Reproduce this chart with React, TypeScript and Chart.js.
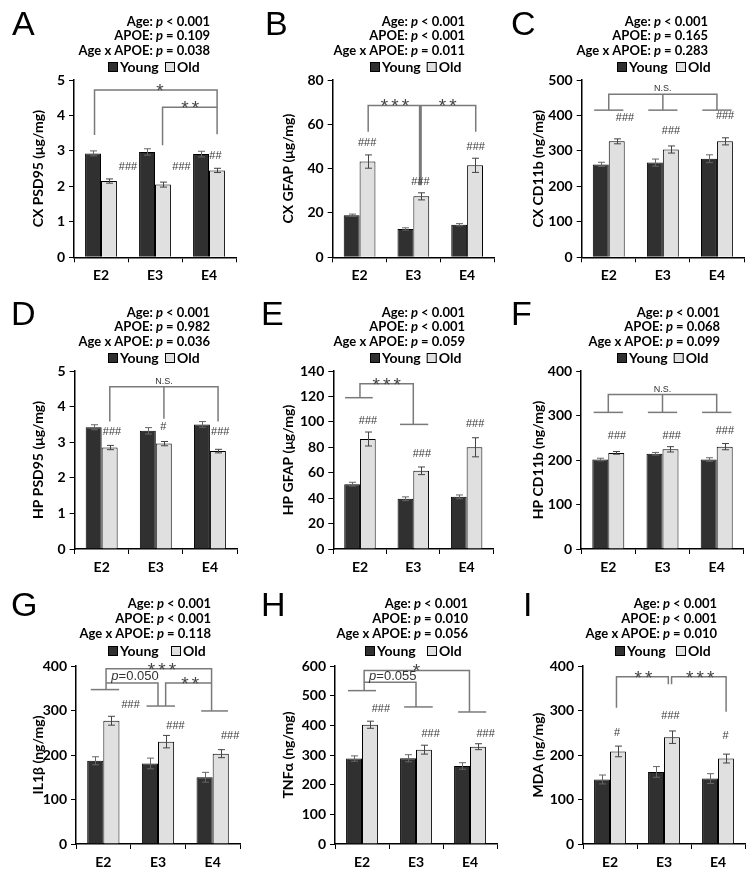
import React, { useEffect, useRef } from 'react';
import { Chart, registerables } from 'chart.js';

Chart.register(...registerables);

// ---------- shared data ----------
const CATEGORIES = ['E2', 'E3', 'E4'];
const SERIES = ['Young', 'Old'];

// ---------- panel A: CX PSD95 ----------
const A_YOUNG = [2.93, 2.97, 2.91];
const A_YOUNG_ERR = [0.07, 0.09, 0.08];
const A_OLD = [2.15, 2.05, 2.45];
const A_OLD_ERR = [0.06, 0.07, 0.06];
const A_STATS = ['Age: p < 0.001', 'APOE: p = 0.109', 'Age x APOE: p = 0.038'];

// ---------- panel B: CX GFAP ----------
const B_YOUNG = [19, 12.8, 14.7];
const B_YOUNG_ERR = [0.5, 0.5, 0.5];
const B_OLD = [43.2, 27.5, 41.5];
const B_OLD_ERR = [3, 1.6, 3.2];
const B_STATS = ['Age: p < 0.001', 'APOE: p < 0.001', 'Age x APOE: p = 0.011'];

// ---------- panel C: CX CD11b ----------
const C_YOUNG = [262, 267, 278];
const C_YOUNG_ERR = [6, 10, 11];
const C_OLD = [327, 304, 327];
const C_OLD_ERR = [7, 10, 10];
const C_STATS = ['Age: p < 0.001', 'APOE: p = 0.165', 'Age x APOE: p = 0.283'];

// ---------- panel D: HP PSD95 ----------
const D_YOUNG = [3.42, 3.32, 3.5];
const D_YOUNG_ERR = [0.07, 0.09, 0.08];
const D_OLD = [2.85, 2.96, 2.75];
const D_OLD_ERR = [0.06, 0.06, 0.05];
const D_STATS = ['Age: p < 0.001', 'APOE: p = 0.982', 'Age x APOE: p = 0.036'];

// ---------- panel E: HP GFAP ----------
const E_YOUNG = [51, 39.5, 41];
const E_YOUNG_ERR = [1.5, 1.5, 1.5];
const E_OLD = [86.5, 61.5, 80];
const E_OLD_ERR = [5.5, 3, 7.5];
const E_STATS = ['Age: p < 0.001', 'APOE: p < 0.001', 'Age x APOE: p = 0.059'];

// ---------- panel F: HP CD11b ----------
const F_YOUNG = [201, 214, 201];
const F_YOUNG_ERR = [3, 3, 4];
const F_OLD = [216, 224, 230];
const F_OLD_ERR = [3, 6, 7];
const F_STATS = ['Age: p < 0.001', 'APOE: p = 0.068', 'Age x APOE: p = 0.099'];

// ---------- panel G: IL1β ----------
const G_YOUNG = [187, 181, 150];
const G_YOUNG_ERR = [9, 12, 11];
const G_OLD = [277, 230, 203];
const G_OLD_ERR = [10, 14, 9];
const G_STATS = ['Age: p < 0.001', 'APOE: p < 0.001', 'Age x APOE: p = 0.118'];

// ---------- panel H: TNFα ----------
const H_YOUNG = [288, 289, 263];
const H_YOUNG_ERR = [9, 12, 11];
const H_OLD = [402, 318, 328];
const H_OLD_ERR = [12, 15, 10];
const H_STATS = ['Age: p < 0.001', 'APOE: p = 0.010', 'Age x APOE: p = 0.056'];

// ---------- panel I: MDA ----------
const I_YOUNG = [145, 162, 147];
const I_YOUNG_ERR = [10, 12, 11];
const I_OLD = [208, 240, 192];
const I_OLD_ERR = [12, 14, 10];
const I_STATS = ['Age: p < 0.001', 'APOE: p < 0.001', 'Age x APOE: p = 0.010'];

// ---------- annotation types ----------
type Seg = { pts: [number, number][]; w?: number };
type Mark = { x: number; y: number; t: string };

// annotations: x in category units (0 = E2 centre), y in data units
const A_HASH: Mark[] = [{ x: 0.5, y: 2.56, t: '###' }, { x: 1.49, y: 2.56, t: '###' }, { x: 2.12, y: 2.86, t: '##' }];
const A_BRACKETS: Seg[] = [
  { pts: [[-0.12, 3.45], [-0.12, 4.72], [2.15, 4.72], [2.15, 3.47]] },
  { pts: [[1.14, 3.16], [1.14, 4.23], [2.15, 4.23]] },
];
const A_SIGNS: Mark[] = [{ x: 1.09, y: 4.72, t: '*' }, { x: 1.65, y: 4.23, t: '**' }];

const B_HASH: Mark[] = [{ x: 0.14, y: 51.5, t: '###' }, { x: 1.13, y: 34, t: '###' }, { x: 2.16, y: 50, t: '###' }];
const B_BRACKETS: Seg[] = [
  { pts: [[0.16, 56.7], [0.16, 68.5], [2.16, 68.5], [2.16, 56.7]] },
  { pts: [[1.13, 32.5], [1.13, 68.5]], w: 3 },
];
const B_SIGNS: Mark[] = [{ x: 0.66, y: 68.5, t: '***' }, { x: 1.64, y: 68.5, t: '**' }];

const C_HASH: Mark[] = [{ x: 0.3, y: 393, t: '###' }, { x: 1.15, y: 355, t: '###' }, { x: 2.15, y: 398, t: '###' }];
const C_BRACKETS: Seg[] = [
  { pts: [[-0.27, 415], [0.27, 415]] },
  { pts: [[0.73, 415], [1.27, 415]] },
  { pts: [[1.73, 415], [2.27, 415]] },
  { pts: [[0, 415], [0, 460], [2, 460], [2, 415]] },
  { pts: [[1, 415], [1, 460]] },
];
const C_SIGNS: Mark[] = [{ x: 1, y: 460, t: 'N.S.' }];

const D_HASH: Mark[] = [{ x: 0.19, y: 3.3, t: '###' }, { x: 1.14, y: 3.43, t: '#' }, { x: 2.19, y: 3.3, t: '###' }];
const D_BRACKETS: Seg[] = [
  { pts: [[0.15, 3.58], [0.15, 4.56], [2.15, 4.56], [2.15, 3.58]] },
  { pts: [[1.15, 3.66], [1.15, 4.56]] },
];
const D_SIGNS: Mark[] = [{ x: 1.15, y: 4.56, t: 'N.S.' }];

const E_HASH: Mark[] = [{ x: 0.15, y: 101, t: '###' }, { x: 1.16, y: 74.5, t: '###' }, { x: 2.16, y: 98, t: '###' }];
const E_BRACKETS: Seg[] = [
  { pts: [[-0.28, 119], [0.24, 119]] },
  { pts: [[0.75, 98], [1.28, 98]] },
  { pts: [[0, 119], [0, 130], [1, 130], [1, 98]] },
];
const E_SIGNS: Mark[] = [{ x: 0.5, y: 130, t: '***' }];

const F_HASH: Mark[] = [{ x: 0.16, y: 255, t: '###' }, { x: 1.17, y: 255, t: '###' }, { x: 2.15, y: 266, t: '###' }];
const F_BRACKETS: Seg[] = [
  { pts: [[-0.27, 307], [0.27, 307]] },
  { pts: [[0.73, 307], [1.27, 307]] },
  { pts: [[1.73, 307], [2.27, 307]] },
  { pts: [[0, 307], [0, 347], [2, 347], [2, 307]] },
  { pts: [[1, 307], [1, 347]] },
];
const F_SIGNS: Mark[] = [{ x: 1, y: 347, t: 'N.S.' }];

const G_HASH: Mark[] = [{ x: 0.5, y: 312, t: '###' }, { x: 1.32, y: 266, t: '###' }, { x: 2.32, y: 243, t: '###' }];
const G_BRACKETS: Seg[] = [
  { pts: [[-0.23, 347], [0.29, 347]] },
  { pts: [[0.79, 310], [1.31, 310]] },
  { pts: [[1.79, 299], [2.28, 299]] },
  { pts: [[0.05, 347], [0.05, 394], [1.98, 394], [1.98, 299]] },
  { pts: [[0.05, 362], [1.0, 362], [1.0, 310]] },
  { pts: [[1.14, 310], [1.14, 362], [1.98, 362]] },
];
const G_SIGNS: Mark[] = [
  { x: 1.07, y: 394, t: '***' },
  { x: 1.59, y: 362, t: '**' },
  { x: 0.58, y: 362, t: 'p=0.050' },
];

const H_HASH: Mark[] = [{ x: 0.35, y: 456, t: '###' }, { x: 1.27, y: 370, t: '###' }, { x: 2.29, y: 370, t: '###' }];
const H_BRACKETS: Seg[] = [
  { pts: [[-0.26, 517], [0.26, 517]] },
  { pts: [[0.78, 462], [1.31, 462]] },
  { pts: [[1.78, 445], [2.3, 445]] },
  { pts: [[0.04, 517], [0.04, 585], [1.99, 585], [1.99, 445]] },
  { pts: [[0.04, 545], [1.0, 545], [1.0, 462]] },
];
const H_SIGNS: Mark[] = [{ x: 1.01, y: 585, t: '*' }, { x: 0.57, y: 545, t: 'p=0.055' }];

const I_HASH: Mark[] = [{ x: 0.13, y: 250, t: '#' }, { x: 1.12, y: 288, t: '###' }, { x: 2.14, y: 243, t: '#' }];
const I_BRACKETS: Seg[] = [
  { pts: [[0.12, 306], [0.12, 376], [1.08, 376], [1.08, 359]] },
  { pts: [[1.14, 359], [1.14, 376], [2.15, 376], [2.15, 297]] },
];
const I_SIGNS: Mark[] = [{ x: 0.62, y: 376, t: '**' }, { x: 1.67, y: 376, t: '***' }];

// ---------- layout ----------
const COL_X = [0, 250, 500];
const ROW_Y = [0, 291, 586];
const PLOT_TOP = 80;
const PLOT_BOTTOM = [257.3, 258, 258];
const STATS_BASE = [[26, 40, 55], [26, 40, 55], [22, 37, 52]];
const LEGEND_Y = [67, 67, 65];
const LETTER_BASE = [35, 34, 30];
const CANVAS_W = 254;
const CANVAS_H = 290;
const X_AXIS_H = 30;
const PAD_LEFT = 26;

const FONT = 'Lato, "Liberation Sans", sans-serif';
const YOUNG_COLOR = '#303030';
const OLD_COLOR = '#e0e0e0';

type PanelDef = {
  letter: string; yTitle: string; max: number; step: number;
  young: number[]; youngErr: number[]; old: number[]; oldErr: number[];
  stats: string[]; hashes: Mark[]; brackets: Seg[]; signs: Mark[];
  col: number; row: number; left: number; right: number;
  statsRight: number; legendX: [number, number]; letterX: number;
};

const PANELS: PanelDef[] = [
  { letter: 'A', yTitle: 'CX PSD95 (μg/mg)', max: 5, step: 1, young: A_YOUNG, youngErr: A_YOUNG_ERR, old: A_OLD, oldErr: A_OLD_ERR, stats: A_STATS, hashes: A_HASH, brackets: A_BRACKETS, signs: A_SIGNS, col: 0, row: 0, left: 74, right: 236, statsRight: 210, legendX: [108, 165], letterX: 12 },
  { letter: 'B', yTitle: 'CX GFAP (μg/mg)', max: 80, step: 20, young: B_YOUNG, youngErr: B_YOUNG_ERR, old: B_OLD, oldErr: B_OLD_ERR, stats: B_STATS, hashes: B_HASH, brackets: B_BRACKETS, signs: B_SIGNS, col: 1, row: 0, left: 82.7, right: 244, statsRight: 215, legendX: [120, 176], letterX: 15 },
  { letter: 'C', yTitle: 'CX CD11b (ng/mg)', max: 500, step: 100, young: C_YOUNG, youngErr: C_YOUNG_ERR, old: C_OLD, oldErr: C_OLD_ERR, stats: C_STATS, hashes: C_HASH, brackets: C_BRACKETS, signs: C_SIGNS, col: 2, row: 0, left: 81.7, right: 244, statsRight: 208, legendX: [117, 176], letterX: 11 },
  { letter: 'D', yTitle: 'HP PSD95 (μg/mg)', max: 5, step: 1, young: D_YOUNG, youngErr: D_YOUNG_ERR, old: D_OLD, oldErr: D_OLD_ERR, stats: D_STATS, hashes: D_HASH, brackets: D_BRACKETS, signs: D_SIGNS, col: 0, row: 1, left: 74.6, right: 237, statsRight: 210, legendX: [108, 165], letterX: 11 },
  { letter: 'E', yTitle: 'HP GFAP (μg/mg)', max: 140, step: 20, young: E_YOUNG, youngErr: E_YOUNG_ERR, old: E_OLD, oldErr: E_OLD_ERR, stats: E_STATS, hashes: E_HASH, brackets: E_BRACKETS, signs: E_SIGNS, col: 1, row: 1, left: 83.3, right: 243.3, statsRight: 215, legendX: [120, 170], letterX: 11 },
  { letter: 'F', yTitle: 'HP CD11b (ng/mg)', max: 400, step: 100, young: F_YOUNG, youngErr: F_YOUNG_ERR, old: F_OLD, oldErr: F_OLD_ERR, stats: F_STATS, hashes: F_HASH, brackets: F_BRACKETS, signs: F_SIGNS, col: 2, row: 1, left: 81.2, right: 243.8, statsRight: 220, legendX: [117, 168], letterX: 11 },
  { letter: 'G', yTitle: 'IL1β (ng/mg)', max: 400, step: 100, young: G_YOUNG, youngErr: G_YOUNG_ERR, old: G_OLD, oldErr: G_OLD_ERR, stats: G_STATS, hashes: G_HASH, brackets: G_BRACKETS, signs: G_SIGNS, col: 0, row: 2, left: 76, right: 240, statsRight: 211, legendX: [108, 171], letterX: 11 },
  { letter: 'H', yTitle: 'TNFα (ng/mg)', max: 600, step: 100, young: H_YOUNG, youngErr: H_YOUNG_ERR, old: H_OLD, oldErr: H_OLD_ERR, stats: H_STATS, hashes: H_HASH, brackets: H_BRACKETS, signs: H_SIGNS, col: 1, row: 2, left: 85, right: 247, statsRight: 218, legendX: [115, 177], letterX: 11 },
  { letter: 'I', yTitle: 'MDA (ng/mg)', max: 400, step: 100, young: I_YOUNG, youngErr: I_YOUNG_ERR, old: I_OLD, oldErr: I_OLD_ERR, stats: I_STATS, hashes: I_HASH, brackets: I_BRACKETS, signs: I_SIGNS, col: 2, row: 2, left: 83, right: 245, statsRight: 217, legendX: [115, 176], letterX: 23 },
];

function drawSign(ctx: CanvasRenderingContext2D, t: string, x: number, y: number) {
  ctx.save();
  if (/^\*+$/.test(t)) {
    ctx.fillStyle = '#444';
    ctx.font = '19px "Liberation Sans", Arial, sans-serif';
    ctx.textAlign = 'center';
    ctx.textBaseline = 'alphabetic';
    const n = t.length;
    for (let k = 0; k < n; k++) {
      ctx.fillText('*', x + (k - (n - 1) / 2) * 10.5, y + 7);
    }
  } else if (t === 'N.S.') {
    ctx.fillStyle = '#333';
    ctx.font = '9px "Liberation Sans", Arial, sans-serif';
    ctx.textAlign = 'center';
    ctx.textBaseline = 'alphabetic';
    ctx.fillText(t, x, y - 3);
  } else {
    const first = t.slice(0, 1);
    const rest = t.slice(1);
    const fi = 'italic 13px "Liberation Sans", Arial, sans-serif';
    const fn = '13px "Liberation Sans", Arial, sans-serif';
    ctx.textBaseline = 'alphabetic';
    ctx.textAlign = 'left';
    ctx.fillStyle = '#333';
    ctx.font = fi;
    const w1 = ctx.measureText(first).width;
    ctx.font = fn;
    const w2 = ctx.measureText(rest).width;
    const x0 = x - (w1 + w2) / 2;
    ctx.font = fi;
    ctx.fillText(first, x0, y - 2.5);
    ctx.font = fn;
    ctx.fillText(rest, x0 + w1, y - 2.5);
  }
  ctx.restore();
}

function makePlugin(def: PanelDef) {
  return {
    id: 'annot' + def.letter,
    afterDatasetsDraw(chart: any) {
      const ctx: CanvasRenderingContext2D = chart.ctx;
      const a = chart.chartArea;
      const cw = (a.right - a.left) / CATEGORIES.length;
      const X = (c: number) => a.left + (c + 0.5) * cw;
      const Y = (v: number) => chart.scales.y.getPixelForValue(v);
      ctx.save();
      // error bars
      const series: [number[], number[]][] = [[def.young, def.youngErr], [def.old, def.oldErr]];
      series.forEach(([vals, errs], di) => {
        const meta = chart.getDatasetMeta(di);
        meta.data.forEach((bar: any, i: number) => {
          const x = Math.round(bar.x) + 0.5;
          const yt = Y(vals[i] + errs[i]);
          const yb = Y(vals[i] - errs[i]);
          ctx.strokeStyle = di === 0 ? '#666' : '#444';
          ctx.lineWidth = 1;
          ctx.beginPath();
          ctx.moveTo(x, yt); ctx.lineTo(x, yb);
          ctx.moveTo(x - 3.5, yt); ctx.lineTo(x + 3.5, yt);
          ctx.moveTo(x - 3.5, yb); ctx.lineTo(x + 3.5, yb);
          ctx.stroke();
        });
      });
      // brackets
      def.brackets.forEach((seg) => {
        ctx.strokeStyle = '#7a7a7a';
        ctx.lineWidth = seg.w ?? 1.5;
        ctx.lineJoin = 'miter';
        ctx.beginPath();
        seg.pts.forEach(([c, v], k) => {
          const px = X(c), py = Y(v);
          if (k === 0) ctx.moveTo(px, py); else ctx.lineTo(px, py);
        });
        ctx.stroke();
      });
      // significance hashes
      ctx.fillStyle = '#3a3a3a';
      ctx.font = '11px "Liberation Sans", Arial, sans-serif';
      ctx.textAlign = 'center';
      ctx.textBaseline = 'middle';
      def.hashes.forEach((h) => ctx.fillText(h.t, X(h.x), Y(h.y)));
      // brackets' labels
      def.signs.forEach((s) => drawSign(ctx, s.t, X(s.x), Y(s.y)));
      ctx.restore();
    },
    afterDraw(chart: any) {
      const ctx: CanvasRenderingContext2D = chart.ctx;
      const row = def.row;
      ctx.save();
      // panel letter
      ctx.fillStyle = '#000';
      ctx.font = '34px "Liberation Sans", Arial, sans-serif';
      ctx.textAlign = 'left';
      ctx.textBaseline = 'alphabetic';
      ctx.fillText(def.letter, def.letterX, LETTER_BASE[row]);
      // statistics
      const fb = `bold 13px ${FONT}`;
      const fbi = `italic bold 13px ${FONT}`;
      def.stats.forEach((line, i) => {
        const idx = line.indexOf(': p ');
        const pre = line.slice(0, idx + 2);
        const p = 'p';
        const post = line.slice(idx + 3);
        ctx.font = fb;
        const w1 = ctx.measureText(pre).width;
        const w3 = ctx.measureText(post).width;
        ctx.font = fbi;
        const w2 = ctx.measureText(p).width;
        let x = def.statsRight - (w1 + w2 + w3);
        const y = STATS_BASE[row][i];
        ctx.font = fb; ctx.fillText(pre, x, y); x += w1;
        ctx.font = fbi; ctx.fillText(p, x, y); x += w2;
        ctx.font = fb; ctx.fillText(post, x, y);
      });
      // legend
      const ly = LEGEND_Y[row];
      const colors = [YOUNG_COLOR, OLD_COLOR];
      const lf = `bold 14px ${FONT}`;
      ctx.font = lf;
      let minX = 0;
      SERIES.forEach((name, k) => {
        const sx = Math.max(def.legendX[k], minX);
        ctx.fillStyle = colors[k];
        ctx.fillRect(sx, ly - 5, 10, 10);
        ctx.strokeStyle = '#000';
        ctx.lineWidth = 1;
        ctx.strokeRect(sx + 0.5, ly - 4.5, 9, 9);
        ctx.fillStyle = '#000';
        ctx.font = lf;
        ctx.textBaseline = 'middle';
        ctx.fillText(name, sx + 12, ly + 0.5);
        ctx.textBaseline = 'alphabetic';
        minX = sx + 12 + ctx.measureText(name).width + 6;
      });
      ctx.restore();
    },
  };
}

function Panel({ def }: { def: PanelDef }) {
  const ref = useRef<HTMLCanvasElement>(null);
  useEffect(() => {
    const plotBottom = PLOT_BOTTOM[def.row];
    const tickFont = { family: FONT, weight: 'bold' as const, size: 14 };
    const chart = new Chart(ref.current!, {
      type: 'bar',
      data: {
        labels: CATEGORIES,
        datasets: [
          { label: SERIES[0], data: def.young, backgroundColor: YOUNG_COLOR, borderColor: '#000', borderWidth: 1, categoryPercentage: 0.59, barPercentage: 1 },
          { label: SERIES[1], data: def.old, backgroundColor: OLD_COLOR, borderColor: '#000', borderWidth: 1, categoryPercentage: 0.59, barPercentage: 1 },
        ],
      },
      options: {
        responsive: false,
        animation: false,
        devicePixelRatio: 1,
        events: [],
        layout: {
          padding: {
            left: PAD_LEFT,
            right: CANVAS_W - def.right,
            top: PLOT_TOP,
            bottom: CANVAS_H - plotBottom - X_AXIS_H,
          },
        },
        plugins: { legend: { display: false }, tooltip: { enabled: false }, title: { display: false } },
        scales: {
          x: {
            grid: { display: true, drawOnChartArea: false, offset: true, drawTicks: true, tickLength: 5, color: '#000', lineWidth: 1 },
            border: { display: true, color: '#000', width: 1.5 },
            ticks: { color: '#000', font: tickFont, padding: 5, maxRotation: 0, autoSkip: false },
            afterFit: (s: any) => { s.height = X_AXIS_H; },
          },
          y: {
            min: 0,
            max: def.max,
            ticks: { stepSize: def.step, color: '#000', font: tickFont, padding: 4 },
            grid: { display: true, drawOnChartArea: false, drawTicks: true, tickLength: 5, color: '#000', lineWidth: 1 },
            border: { display: true, color: '#000', width: 1.5 },
            title: { display: true, text: def.yTitle, color: '#000', font: { family: FONT, weight: 'bold', size: 14 }, padding: { top: 4, bottom: 0 } },
            afterFit: (s: any) => { s.width = def.left - PAD_LEFT; },
          },
        },
      },
      plugins: [makePlugin(def)],
    });
    return () => chart.destroy();
  }, [def]);
  return (
    <canvas
      ref={ref}
      width={CANVAS_W}
      height={CANVAS_H}
      style={{ position: 'absolute', left: COL_X[def.col], top: ROW_Y[def.row], width: CANVAS_W, height: CANVAS_H }}
    />
  );
}

export default function App() {
  return (
    <div style={{ position: 'absolute', left: 0, top: 0, width: 754, height: 878, background: '#fff', overflow: 'hidden' }}>
      {PANELS.map((p) => (
        <Panel key={p.letter} def={p} />
      ))}
    </div>
  );
}
